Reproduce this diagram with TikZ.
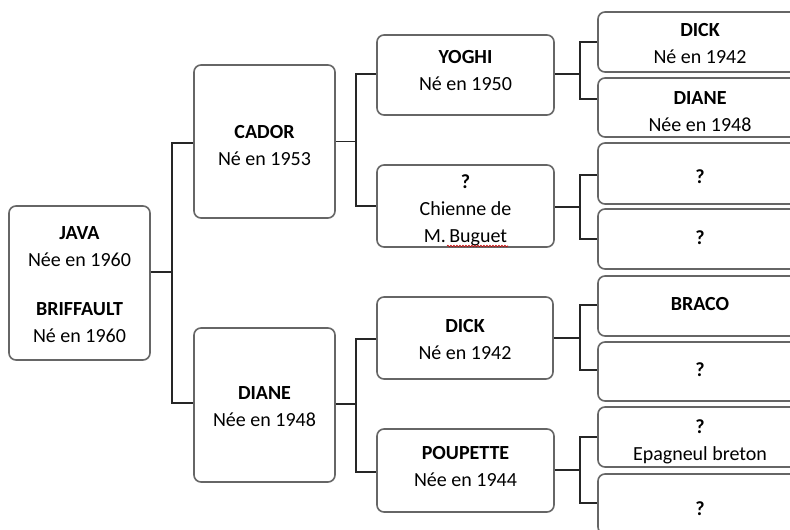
\documentclass[tikz,border=0pt]{standalone}
\usepackage{fontspec}
\setmainfont{Carlito}
\usetikzlibrary{decorations.pathmorphing}
\begin{document}
\begin{tikzpicture}[x=1pt,y=-1pt,
  box/.style={draw=black!60, line width=1.6pt, rounded corners=7pt, fill=white, inner sep=0pt},
  txt/.style={align=center, inner sep=0pt, font=\fontsize{20}{27}\selectfont, text=black},
  link/.style={draw=black!85, line width=1.8pt},
  spell/.style={draw=red!80!black, line width=0.6pt, decorate,
    decoration={snake, amplitude=0.8pt, segment length=3pt}}]
\useasboundingbox (0,0) rectangle (790,530);
\clip (0,0) rectangle (790,530);
\fill[white] (0,0) rectangle (790,530);

% \gbox{name}{x}{y}{width}{height}{text y offset}{text}
\newcommand\gbox[7]{%
  \node[box, minimum width=#4pt, minimum height=#5pt] (#1) at (#2,#3) {};
  \node[txt] (#1-t) at ({#2},{#3+#6}) {#7};}

% generation 0
\gbox{java}{79.5}{283}{141}{154}{1.5}
  {\textbf{JAVA}\\Née en 1960\\[22pt]\textbf{BRIFFAULT}\\Né en 1960}

% generation 1
\gbox{cador}{264.5}{141.5}{141}{153}{4}{\textbf{CADOR}\\Né en 1953}
\gbox{dianeM}{264.5}{405}{141}{154}{1.5}{\textbf{DIANE}\\Née en 1948}

% generation 2
\gbox{yoghi}{465.5}{75}{177}{80}{-4}{\textbf{YOGHI}\\Né en 1950}
\gbox{chienne}{465.5}{206}{177}{82}{4}{\textbf{?}\\Chienne de\\M.\,Buguet}
\gbox{dickM}{465}{338}{176}{82}{2}{\textbf{DICK}\\Né en 1942}
\gbox{poupette}{465.5}{470.5}{177}{83}{-4}{\textbf{POUPETTE}\\Née en 1944}

% generation 3
\gbox{r1}{700}{42}{204}{60}{1.5}{\textbf{DICK}\\Né en 1942}
\gbox{r2}{700}{107.5}{204}{59}{4}{\textbf{DIANE}\\Née en 1948}
\gbox{r3}{700}{173.5}{204}{61}{3}{\textbf{?}}
\gbox{r4}{700}{239}{204}{60}{-1}{\textbf{?}}
\gbox{r5}{700}{306}{204}{60}{-2}{\textbf{BRACO}}
\gbox{r6}{700}{371.5}{204}{59}{-2}{\textbf{?}}
\gbox{r7}{700}{437}{204}{60}{5}{\textbf{?}\\Epagneul breton}
\gbox{r8}{700}{504}{204}{60}{5}{\textbf{?}}

% spell-check underline
\draw[spell] (447,246) -- (508,246);

% connectors
\coordinate (j0) at (172,272);
\draw[link] ([yshift=11pt]java.east) -- (j0);
\draw[link] ([yshift=-1.5pt]cador.west) -| (j0) |- ([yshift=2pt]dianeM.west);

\coordinate (j1) at (356,141.5);
\draw[link] (cador.east) -- (j1);
\draw[link] ([yshift=1pt]yoghi.west) -| (j1) |- (chienne.west);

\coordinate (j2) at (356,404);
\draw[link] ([yshift=1pt]dianeM.east) -- (j2);
\draw[link] ([yshift=-1pt]dickM.west) -| (j2) |- ([yshift=-1.5pt]poupette.west);

\coordinate (j3) at (580,74);
\draw[link] ([yshift=1pt]yoghi.east) -- (j3);
\draw[link] (r1.west) -| (j3) |- ([yshift=8.5pt]r2.west);

\coordinate (j4) at (580,207);
\draw[link] ([yshift=-1pt]chienne.east) -- (j4);
\draw[link] ([yshift=-1.5pt]r3.west) -| (j4) |- (r4.west);

\coordinate (j5) at (580,338);
\draw[link] (dickM.east) -- (j5);
\draw[link] ([yshift=1pt]r5.west) -| (j5) |- ([yshift=1.5pt]r6.west);

\coordinate (j6) at (580,470);
\draw[link] ([yshift=0.5pt]poupette.east) -- (j6);
\draw[link] (r7.west) -| (j6) |- ([yshift=1pt]r8.west);
\end{tikzpicture}
\end{document}
